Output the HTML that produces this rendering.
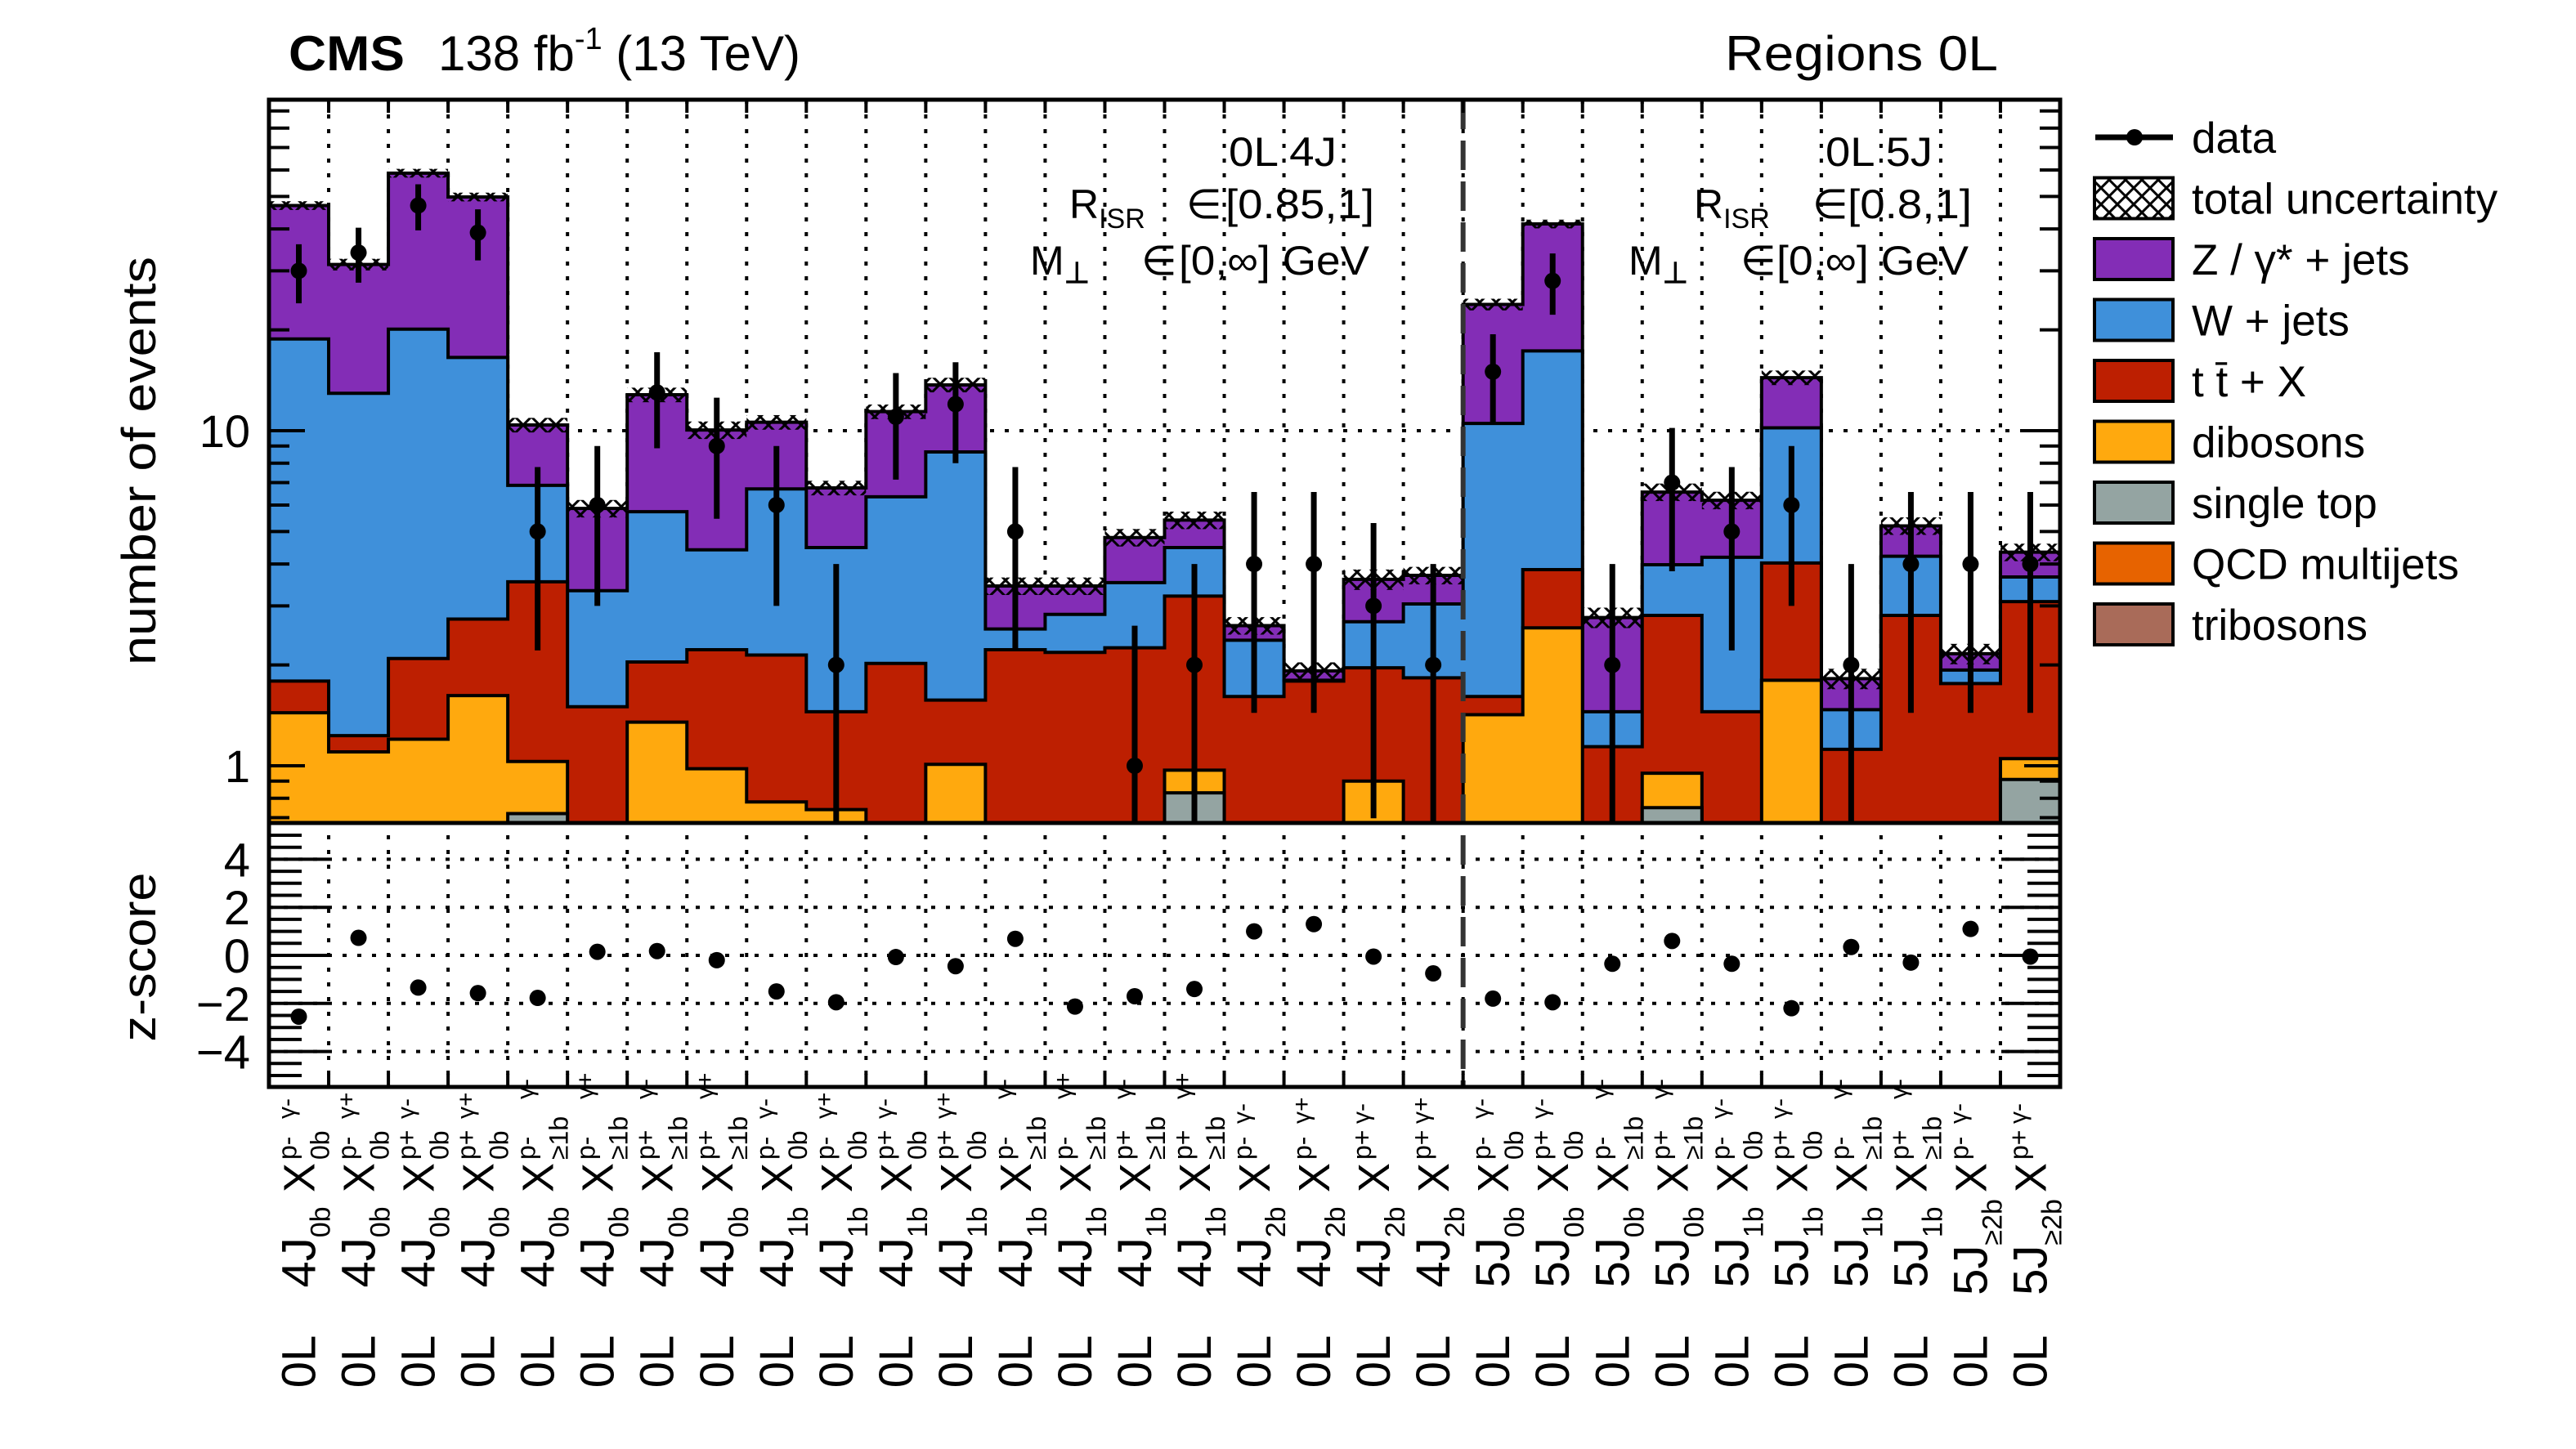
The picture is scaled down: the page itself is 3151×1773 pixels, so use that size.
<!DOCTYPE html>
<html><head><meta charset="utf-8"><style>
html,body{margin:0;padding:0;background:#fff}
svg{display:block}
text{font-family:"Liberation Sans",sans-serif;fill:#000}
</style></head><body>
<svg id="chart" width="3151" height="1773" viewBox="0 0 3151 1773" xmlns="http://www.w3.org/2000/svg">
<defs>
<pattern id="hatch" patternUnits="userSpaceOnUse" width="20" height="20">
<path d="M0,0 L20,20 M20,0 L0,20" stroke="#000" stroke-width="3"/>
</pattern>
<clipPath id="mainClip"><rect x="329" y="122" width="2191" height="885"/></clipPath>
<clipPath id="ratioClip"><rect x="329" y="1007" width="2191" height="323"/></clipPath>
</defs>
<g id="grid"></g>
<g id="hists" clip-path="url(#mainClip)"></g>
<g id="unc" clip-path="url(#mainClip)"></g>
<g id="datapts" clip-path="url(#mainClip)"></g>
<g id="zpts" clip-path="url(#ratioClip)"></g>
<g id="axes"></g>
<g id="xlabels"></g>

<text x="353" y="86" font-size="60" font-weight="bold" textLength="142" lengthAdjust="spacingAndGlyphs">CMS</text>
<text x="536" y="86" font-size="60">138 fb<tspan font-size="38" dy="-26">-1</tspan><tspan dy="26"> (13 TeV)</tspan></text>
<text x="2110" y="86" font-size="60" textLength="334" lengthAdjust="spacingAndGlyphs">Regions  0L</text>

<text transform="translate(190,564) rotate(-90)" text-anchor="middle" font-size="58" textLength="500" lengthAdjust="spacingAndGlyphs">number of events</text>
<text transform="translate(190,1171) rotate(-90)" text-anchor="middle" font-size="58" textLength="207" lengthAdjust="spacingAndGlyphs">z-score</text>

<g font-size="50">
<text x="1503" y="203" textLength="132" lengthAdjust="spacingAndGlyphs">0L 4J</text>
<text x="1308" y="267">R<tspan font-size="34" dy="12">ISR</tspan></text>
<text x="1451" y="267">∈</text>
<text x="1499" y="267" textLength="182" lengthAdjust="spacingAndGlyphs">[0.85,1]</text>
<text x="1260" y="336">M<tspan font-size="36" dy="10" font-weight="bold">⊥</tspan></text>
<text x="1396" y="336">∈</text>
<text x="1442" y="336" textLength="233" lengthAdjust="spacingAndGlyphs">[0,∞] GeV</text>
</g>
<g font-size="50">
<text x="2233" y="203" textLength="131" lengthAdjust="spacingAndGlyphs">0L 5J</text>
<text x="2072" y="267">R<tspan font-size="34" dy="12">ISR</tspan></text>
<text x="2217" y="267">∈</text>
<text x="2260" y="267" textLength="152" lengthAdjust="spacingAndGlyphs">[0.8,1]</text>
<text x="1992" y="336">M<tspan font-size="36" dy="10" font-weight="bold">⊥</tspan></text>
<text x="2129" y="336">∈</text>
<text x="2173" y="336" textLength="235" lengthAdjust="spacingAndGlyphs">[0,∞] GeV</text>
</g>
<g id="legend"></g>
</svg>
<script>
// ---- data ----
const singleTop = [0,0,0,0,0.72,0,0,0,0,0,0,0,0,0,0,0.83,0,0,0,0,0,0,0,0.75,0,0,0,0,0,0.91];
const dibosons  = [1.44,1.10,1.2,1.62,0.31,0,1.35,0.98,0.78,0.74,0,1.01,0,0,0,0.14,0,0,0.90,0,1.42,2.58,0,0.20,0,1.8,0,0,0,0.14];
const ttX       = [0.35,0.13,0.89,1.12,2.51,1.5,0.69,1.24,1.36,0.71,2.02,0.56,2.22,2.18,2.25,2.24,1.61,1.79,1.06,1.83,0.19,1.27,1.14,1.86,1.45,2.23,1.12,2.81,1.76,2.04];
const wJets     = [17.0,11.7,18.0,13.8,3.33,1.83,3.69,2.19,4.56,3.03,4.33,7.07,0.34,0.65,1.27,1.27,0.76,0.01,0.73,1.21,8.9,13.45,0.31,1.17,2.74,6.17,0.35,1.41,0.17,0.57];
const zJets     = [28.2,18.4,38.6,33.3,3.53,2.53,7.07,5.64,3.9,2.27,5.05,5.06,0.88,0.61,1.28,0.93,0.25,0.12,0.91,0.66,13.3,24.1,1.32,2.58,2.01,4.2,0.35,0.98,0.23,0.68];
const qcd       = [0,0,0,0,0,0,0,0,0,0,0,0,0,0,0,0,0,0,0,0,0,0,0,0,0,0,0,0,0,0];
const tribosons = [0,0,0,0,0,0,0,0,0,0,0,0,0,0,0,0,0,0,0,0,0,0,0,0,0,0,0,0,0,0];
const dataCounts = [30,34,47,39,5,6,13,9,6,2,11,12,5,0,1,2,4,4,3,2,15,28,2,7,5,6,2,4,4,4];
const relUnc    = [0.03,0.04,0.03,0.03,0.05,0.06,0.05,0.06,0.05,0.05,0.05,0.05,0.06,0.06,0.06,0.06,0.06,0.06,0.07,0.06,0.04,0.03,0.07,0.06,0.06,0.05,0.07,0.06,0.07,0.06];
const zScores   = [-2.55,0.73,-1.34,-1.57,-1.77,0.15,0.18,-0.2,-1.5,-1.95,-0.07,-0.45,0.69,-2.13,-1.7,-1.4,1.0,1.3,-0.05,-0.75,-1.8,-1.95,-0.35,0.6,-0.35,-2.2,0.35,-0.3,1.1,-0.05];
const binSup = ["p-","p-","p+","p+","p-","p-","p+","p+","p-","p-","p+","p+","p-","p-","p+","p+","p-","p-","p+","p+","p-","p+","p-","p+","p-","p+","p-","p+","p-","p+"];
const binSub = ["0b","0b","0b","0b","≥1b","≥1b","≥1b","≥1b","0b","0b","0b","0b","≥1b","≥1b","≥1b","≥1b","","","","","0b","0b","≥1b","≥1b","0b","0b","≥1b","≥1b","",""];
const binGam = ["γ-","γ+","γ-","γ+","γ-","γ+","γ-","γ+","γ-","γ+","γ-","γ+","γ-","γ+","γ-","γ+","γ-","γ+","γ-","γ+","γ-","γ-","γ-","γ-","γ-","γ-","γ-","γ-","γ-","γ-"];
const regJ   = ["4J","4J","4J","4J","4J","4J","4J","4J","4J","4J","4J","4J","4J","4J","4J","4J","4J","4J","4J","4J","5J","5J","5J","5J","5J","5J","5J","5J","5J","5J"];
const regB   = ["0b","0b","0b","0b","0b","0b","0b","0b","1b","1b","1b","1b","1b","1b","1b","1b","2b","2b","2b","2b","0b","0b","0b","0b","1b","1b","1b","1b","≥2b","≥2b"];
const yMajorTicks = [1,10];
const yTickLabels = ["1","10"];
const zTicks = [-4,-2,0,2,4];
const zTickLabels = ["−4","−2","0","2","4"];

// ---- geometry ----
const L=329,R=2520,T=122,MB=1007,RB=1330;
const N=dataCounts.length, BW=(R-L)/N;
const SEP=20;
function xb(i){return L+i*BW;}
function yv(v){ if(v<=0) return MB+50; return 937-410*Math.log10(v); }
function yz(z){ return 1169-29.4*z; }
const NS="http://www.w3.org/2000/svg";
function mk(tag,attrs,parent){const e=document.createElementNS(NS,tag);for(const k in attrs)e.setAttribute(k,attrs[k]);parent.appendChild(e);return e;}

// grid
const grid=document.getElementById('grid');
for(let i=1;i<N;i++){
  const l=mk('line',{x1:xb(i),x2:xb(i),y1:T,y2:RB,stroke:'#000','stroke-width':4,'stroke-dasharray':'5 13'},grid);
  
  
}
{const l=mk('line',{x1:L,x2:R,y1:yv(10),y2:yv(10),stroke:'#000','stroke-width':4,'stroke-dasharray':'5 13'},grid);
 
 }
zTicks.forEach(z=>{
  const l=mk('line',{x1:L,x2:R,y1:yz(z),y2:yz(z),stroke:'#000','stroke-width':4,'stroke-dasharray':'5 13'},grid);
  
  
});

// stacked histograms
const comps=[
 {name:'tribosons',vals:tribosons,color:'#a96b59'},
 {name:'qcd-multijets',vals:qcd,color:'#e76300'},
 {name:'single-top',vals:singleTop,color:'#94a4a2'},
 {name:'dibosons',vals:dibosons,color:'#ffa90e'},
 {name:'ttx',vals:ttX,color:'#bd1f01'},
 {name:'w-jets',vals:wJets,color:'#3f90da'},
 {name:'z-jets',vals:zJets,color:'#832db6'}
];
const cum=[]; let run=new Array(N).fill(0);
comps.forEach(c=>{run=run.map((r,i)=>r+c.vals[i]);cum.push(run.slice());});
const hists=document.getElementById('hists');
for(let k=comps.length-1;k>=0;k--){
  const cv=cum[k];
  if(cv.every(v=>v<=0)) continue;
  let d='M'+L+','+(MB+50);
  for(let i=0;i<N;i++){const y=yv(cv[i]);d+=' L'+xb(i)+','+y+' L'+xb(i+1)+','+y;}
  d+=' L'+R+','+(MB+50)+' Z';
  const p=mk('path',{d:d,fill:comps[k].color,stroke:'#000','stroke-width':4,'stroke-linejoin':'miter'},hists);
  
  
}
const total=cum[cum.length-1];
// uncertainty
const ug=document.getElementById('unc');
for(let i=0;i<N;i++){
  const hi=yv(total[i]*(1+relUnc[i])), lo=yv(total[i]*(1-relUnc[i]));
  const r=mk('rect',{x:xb(i),y:hi,width:BW,height:lo-hi,fill:'url(#hatch)'},ug);
  
  
}
// data
const dg=document.getElementById('datapts');
for(let i=0;i<N;i++){
  const n=dataCounts[i], cx=xb(i)+BW/2;
  if(n<=0) continue;
  const e=0.5+Math.sqrt(n+0.25);
  const l=mk('line',{x1:cx,x2:cx,y1:yv(n+e),y2:(n-e>0?yv(n-e):MB+50),stroke:'#000','stroke-width':7},dg);
  
  
  const c=mk('circle',{cx:cx,cy:yv(n),r:10,fill:'#000'},dg);
  
  
}
// z-scores
const zg=document.getElementById('zpts');
for(let i=0;i<N;i++){
  const c=mk('ellipse',{cx:xb(i)+BW/2,cy:yz(zScores[i]),rx:10,ry:10,fill:'#000'},zg);
  
  
}
// axes
const ax=document.getElementById('axes');
function ln(x1,y1,x2,y2,w,name){const l=mk('line',{x1:x1,y1:y1,x2:x2,y2:y2,stroke:'#000','stroke-width':w},ax);
  
  return l;}
{const l=mk('line',{x1:xb(SEP),x2:xb(SEP),y1:T,y2:RB,stroke:'#333','stroke-width':6,'stroke-dasharray':'36 14'},ax);
 
 }
{const r=mk('rect',{x:L,y:T,width:R-L,height:MB-T,fill:'none',stroke:'#000','stroke-width':5},ax);
 
 }
{const r=mk('rect',{x:L,y:MB,width:R-L,height:RB-MB,fill:'none',stroke:'#000','stroke-width':5},ax);
 
 }
for(let dec=-1;dec<=1;dec++){
  for(let m=1;m<=9;m++){
    const v=m*Math.pow(10,dec); const y=yv(v);
    if(y<T||y>MB) continue;
    const len=(m===1)?44:25;
    ln(L,y,L+len,y,4,'y-tick');
    ln(R,y,R-len,y,4,'y-tick-right');
  }
}
yMajorTicks.forEach((v,i)=>{
  const t=mk('text',{x:306,y:yv(v)+20,'text-anchor':'end','font-size':56},ax);
  t.textContent=yTickLabels[i];
  
  
});
for(let z=-5.5;z<=5.5;z+=0.5){
  const y=yz(z); if(y<MB+2||y>RB-2) continue;
  const major=Math.abs(z%2)<1e-6;
  const len=major?72:40;
  ln(L,y,L+len,y,4,'z-tick');
  ln(R,y,R-len,y,4,'z-tick-right');
}
zTicks.forEach((z,i)=>{
  const t=mk('text',{x:306,y:yz(z)+21,'text-anchor':'end','font-size':58},ax);
  t.textContent=zTickLabels[i];
  
  
});
for(let i=1;i<N;i++){
  ln(xb(i),T,xb(i),T+16,4,'x-tick-top');
  ln(xb(i),RB,xb(i),RB-16,4,'x-tick-bottom');
}
// x labels
const xl=document.getElementById('xlabels');
function tx(parent,x,y,s,fs){const t=mk('text',{x:x,y:y,'font-size':fs},parent);t.textContent=s;return t;}
for(let i=0;i<N;i++){
  const cx=xb(i)+BW/2;
  const g1=mk('g',{transform:'translate('+cx+',1459) rotate(-90)'},xl);
  
  
  tx(g1,0,19,'X',54);
  tx(g1,40,-3,binSup[i],32);
  if(binSub[i]) tx(g1,40,37,binSub[i],32);
  const w=binSub[i]==='≥1b'?62:(binSub[i]?38:32);
  tx(g1,40+w+12,-5,binGam[i],30);
  const g2=mk('g',{transform:'translate('+cx+',1526) rotate(-90)'},xl);
  
  
  const t2=mk('text',{x:0,y:20,'text-anchor':'middle','font-size':58},g2);
  t2.innerHTML=regJ[i]+'<tspan font-size="34" dy="18">'+regB[i]+'</tspan>';
  const g3=mk('g',{transform:'translate('+cx+',1666) rotate(-90)'},xl);
  
  
  const t3=mk('text',{x:0,y:20,'text-anchor':'middle','font-size':58},g3);
  t3.textContent='0L';
}
// legend
const lg=document.getElementById('legend');
const legItems=[
 {label:'data',type:'data'},
 {label:'total uncertainty',type:'hatch'},
 {label:'Z / γ* + jets',color:'#832db6'},
 {label:'W + jets',color:'#3f90da'},
 {label:'t t̄ + X',color:'#bd1f01'},
 {label:'dibosons',color:'#ffa90e'},
 {label:'single top',color:'#94a4a2'},
 {label:'QCD multijets',color:'#e76300'},
 {label:'tribosons',color:'#a96b59'}
];
legItems.forEach((it,k)=>{
  const cy=168+k*74.5;
  const g=mk('g',{},lg);
  
  
  if(it.type==='data'){
    mk('line',{x1:2563,x2:2658,y1:cy,y2:cy,stroke:'#000','stroke-width':7},g);
    mk('circle',{cx:2611,cy:cy,r:10,fill:'#000'},g);
  } else {
    mk('rect',{x:2562,y:cy-25,width:96,height:50,fill:it.type==='hatch'?'url(#hatch)':it.color,stroke:'#000','stroke-width':4},g);
  }
  const t=mk('text',{x:2681,y:cy+19,'font-size':53},g);
  t.textContent=it.label;
});
</script>
</body></html>
